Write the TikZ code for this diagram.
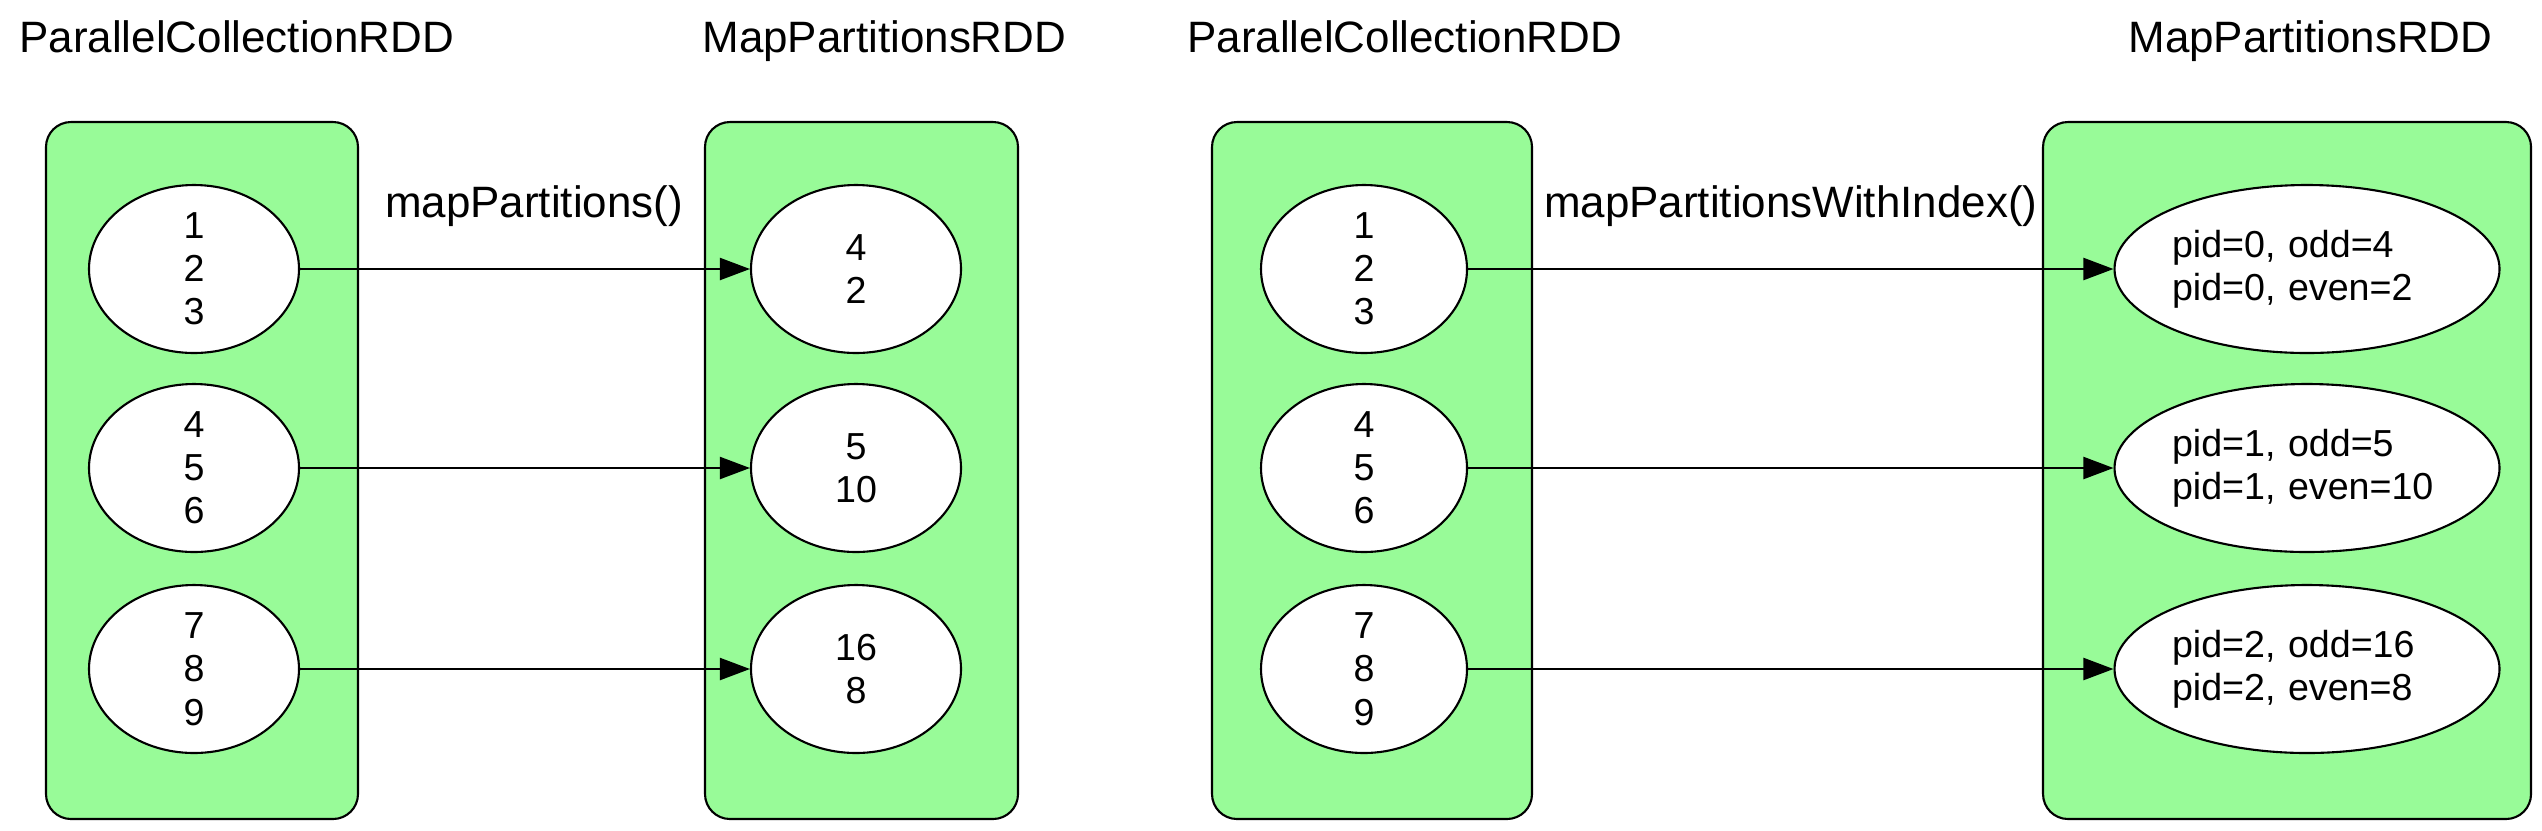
\documentclass[tikz,border=0pt]{standalone}
\usepackage{fontspec}
\setmainfont{Liberation Sans}
\usetikzlibrary{arrows.meta,shapes.geometric}
\definecolor{rddg}{HTML}{98FB98}
\tikzset{
  rdd/.style={draw, fill=rddg, line width=0.6pt, rounded corners=2.5mm, inner sep=0pt, minimum height=69.7mm},
  part/.style={draw, fill=white, ellipse, line width=0.6pt, inner sep=0pt, minimum height=16.8mm,
    minimum width=21mm, align=center, font=\fontsize{10.7}{12.3}\selectfont},
  wpart/.style={part, minimum width=38.5mm, text width=27mm, align=left},
  flow/.style={-{Triangle[length=3mm, width=2.2mm]}, line width=0.6pt},
  lab/.style={font=\fontsize{12.5}{15}\selectfont},
}
\begin{document}
\begin{tikzpicture}[x=0.1mm,y=-0.1mm]
\useasboundingbox (0,0) rectangle (2542,830);

% ============ left: mapPartitions() ============
\node[lab, anchor=base west] (t1) at (7,52) {ParallelCollectionRDD};
\node[lab, anchor=base west] (t2) at (690,52) {MapPartitionsRDD};
\node[rdd, minimum width=31.2mm] (p1) at (202,470.5) {};
\node[rdd, minimum width=31.3mm] (p2) at (861.5,470.5) {};
\foreach \r/\y/\a/\b in {1/269/{1\\2\\3}/{4\\2}, 2/468/{4\\5\\6}/{5\\10}, 3/669/{7\\8\\9}/{16\\8}}{
  \node[part] (a\r) at (194,\y) {\a};
  \node[part] (b\r) at (856,\y) {\b};
  \draw[flow] (a\r) -- (b\r);}
\path (a1) -- (b1) node[lab, pos=.52, anchor=base, yshift=5.2mm] (l1) {mapPartitions()};

% ============ right: mapPartitionsWithIndex() ============
\node[lab, anchor=base west] (t3) at (1175,52) {ParallelCollectionRDD};
\node[lab, anchor=base west] (t4) at (2116,52) {MapPartitionsRDD};
\node[rdd, minimum width=32mm] (p3) at (1372,470.5) {};
\node[rdd, minimum width=48.8mm] (p4) at (2287,470.5) {};
\foreach \r/\y/\a/\d in {1/269/{1\\2\\3}/{pid=0, odd=4\\pid=0, even=2},
    2/468/{4\\5\\6}/{pid=1, odd=5\\pid=1, even=10},
    3/669/{7\\8\\9}/{pid=2, odd=16\\pid=2, even=8}}{
  \node[part, minimum width=20.6mm] (c\r) at (1364,\y) {\a};
  \node[wpart] (d\r) at (2307,\y) {\d};
  \draw[flow] (c\r) -- (d\r);}
\path (c1) -- (d1) node[lab, pos=.5, anchor=base, yshift=5.2mm] (l2) {mapPartitionsWithIndex()};

\end{tikzpicture}
\end{document}
